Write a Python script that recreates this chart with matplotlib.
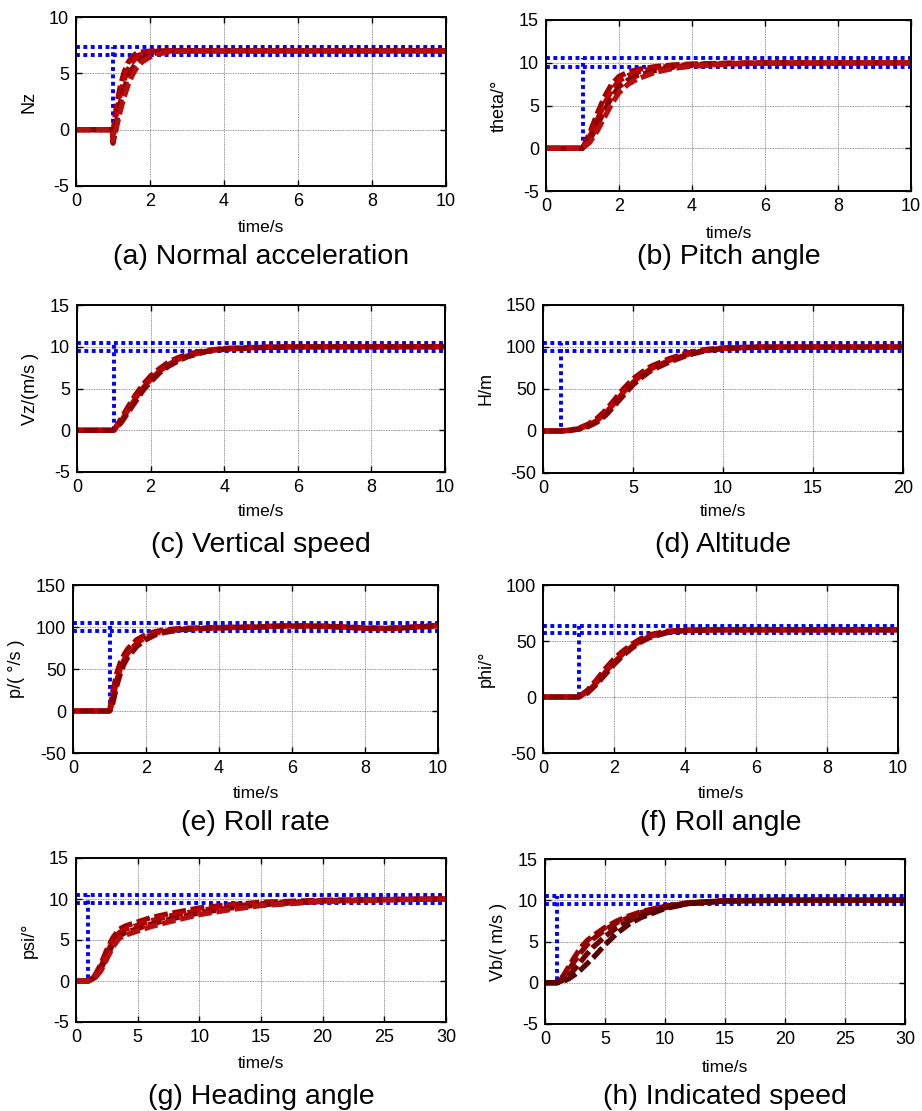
import matplotlib
matplotlib.use("Agg")
import matplotlib.pyplot as plt

plt.rcParams['font.family'] = ['Liberation Sans', 'DejaVu Sans']
plt.rcParams['axes.unicode_minus'] = False

# ---------------- data ----------------
# (a) Normal acceleration
t_a = [0, 0.98, 1.0, 1.05, 1.1, 1.2, 1.3, 1.4, 1.5, 1.6, 1.7, 1.8, 2.0, 2.2, 2.5, 3.0, 4.0, 10]
nz_1 = [0, 0, -0.3, 1.0, 2.2, 3.9, 5.1, 5.9, 6.4, 6.7, 6.85, 6.9, 6.97, 7.0, 7.0, 7.0, 7.0, 7.0]
nz_2 = [0, 0, -0.8, 0.3, 1.5, 3.2, 4.4, 5.3, 5.9, 6.3, 6.6, 6.75, 6.9, 6.97, 7.0, 7.0, 7.0, 7.0]
nz_3 = [0, 0, -1.2, -0.3, 0.7, 2.4, 3.6, 4.6, 5.3, 5.8, 6.1, 6.35, 6.65, 6.85, 6.95, 7.0, 7.0, 7.0]
nz_4 = [0, 0, -1.0, -0.5, 0.3, 1.7, 2.9, 3.9, 4.7, 5.3, 5.75, 6.05, 6.45, 6.7, 6.9, 6.98, 7.0, 7.0]
bounds_a = [6.65, 7.35]

# (b) Pitch angle
t_b = [0, 1.0, 1.2, 1.4, 1.6, 1.8, 2.0, 2.25, 2.5, 3.0, 3.5, 4.0, 5.0, 6.0, 10]
theta_1 = [0, 0, 1.8, 4.0, 6.0, 7.5, 8.4, 8.9, 9.2, 9.55, 9.75, 9.85, 9.95, 10, 10]
theta_2 = [0, 0, 1.4, 3.3, 5.2, 6.8, 7.9, 8.5, 8.9, 9.4, 9.65, 9.8, 9.93, 9.98, 10]
theta_3 = [0, 0, 1.0, 2.6, 4.4, 6.0, 7.2, 8.0, 8.5, 9.1, 9.5, 9.7, 9.88, 9.96, 10]
theta_4 = [0, 0, 0.7, 2.0, 3.6, 5.2, 6.5, 7.5, 8.1, 8.9, 9.35, 9.6, 9.85, 9.95, 10]
bounds_b = [9.5, 10.5]

# (c) Vertical speed
t_c = [0, 1.0, 1.2, 1.4, 1.6, 1.8, 2.0, 2.25, 2.5, 2.75, 3.0, 3.5, 4.0, 5.0, 6.0, 10]
vz_1 = [0, 0, 1.4, 2.9, 4.3, 5.5, 6.5, 7.4, 8.2, 8.7, 9.1, 9.55, 9.8, 9.95, 10, 10]
vz_2 = [0, 0, 1.1, 2.5, 3.9, 5.1, 6.1, 7.1, 7.9, 8.5, 8.9, 9.45, 9.75, 9.93, 10, 10]
vz_3 = [0, 0, 0.9, 2.2, 3.5, 4.8, 5.8, 6.9, 7.7, 8.3, 8.8, 9.4, 9.7, 9.9, 9.98, 10]
bounds_c = [9.5, 10.5]

# (d) Altitude
t_d = [0, 1, 1.5, 2, 2.5, 3, 3.5, 4, 4.5, 5, 5.5, 6, 7, 8, 9, 10, 12, 20]
h_1 = [0, 0, 1, 3.5, 8, 15, 25, 38, 51, 62, 70, 77, 86, 93, 97, 99, 100, 100]
h_2 = [0, 0, 0.8, 2.8, 6.5, 12.5, 22, 34, 47, 58, 67, 74, 84, 91, 96, 98.5, 100, 100]
h_3 = [0, 0, 0.6, 2.2, 5.2, 10.5, 19, 31, 43, 55, 64, 72, 82, 90, 95.5, 98, 99.8, 100]
bounds_d = [95, 105]

# (e) Roll rate
t_e = [0, 1, 1.05, 1.1, 1.2, 1.3, 1.4, 1.5, 1.75, 2, 2.25, 2.5, 3, 4, 5, 5.5, 6, 7, 8, 8.5, 9, 10]
p_1 = [0, 0, 12, 25, 45, 58, 67, 74, 85, 91, 94.5, 96.5, 98.5, 99.5, 100, 101, 101.5, 101, 99, 98.5, 99, 102]
p_2 = [0, 0, 6, 17, 37, 51, 61, 69, 81, 88, 92.5, 95, 97.8, 99.2, 100, 101, 101.3, 100.8, 98.8, 98.3, 99, 101.5]
p_3 = [0, 0, 3, 11, 30, 45, 56, 64, 77, 85, 90.5, 93.5, 97, 98.8, 99.8, 100.8, 101, 100.5, 98.5, 98, 98.8, 101]
bounds_e = [95, 105]

# (f) Roll angle
t_f = [0, 1, 1.25, 1.5, 1.75, 2, 2.25, 2.5, 2.75, 3, 3.5, 4, 5, 10]
phi_1 = [0, 0, 6, 15, 25, 34, 41, 47, 52, 55.5, 58.8, 59.8, 60, 60]
phi_2 = [0, 0, 4.5, 12.5, 22, 31, 38.5, 45, 50, 54, 58, 59.5, 60, 60]
phi_3 = [0, 0, 3.5, 11, 20, 29, 37, 43.5, 49, 53, 57.5, 59.3, 60, 60]
bounds_f = [57, 63]

# (g) Heading angle
t_g = [0, 1, 1.5, 2, 2.5, 3, 3.5, 4, 5, 6, 7.5, 10, 12.5, 15, 20, 25, 30]
psi_1 = [0, 0, 0.6, 2.0, 3.8, 5.3, 6.3, 6.7, 7.2, 7.7, 8.2, 8.9, 9.3, 9.6, 9.85, 9.95, 10]
psi_2 = [0, 0, 0.5, 1.7, 3.4, 4.9, 5.9, 6.3, 6.8, 7.3, 7.9, 8.6, 9.1, 9.45, 9.8, 9.93, 10]
psi_3 = [0, 0, 0.4, 1.4, 3.0, 4.5, 5.5, 5.9, 6.4, 6.9, 7.5, 8.3, 8.9, 9.3, 9.75, 9.9, 10]
psi_4 = [0, 0, 0.3, 1.2, 2.7, 4.2, 5.2, 5.6, 6.1, 6.6, 7.2, 8.1, 8.7, 9.2, 9.7, 9.9, 10]
bounds_g = [9.5, 10.5]

# (h) Indicated speed
t_h = [0, 1, 1.5, 2, 2.5, 3, 3.5, 4, 5, 6, 7, 8, 10, 12, 15, 20, 30]
vb_1 = [0, 0, 0.8, 2.0, 3.2, 4.3, 5.1, 5.7, 6.7, 7.5, 8.1, 8.6, 9.3, 9.7, 9.95, 10, 10]
vb_2 = [0, 0, 0.6, 1.6, 2.7, 3.7, 4.6, 5.3, 6.4, 7.3, 7.9, 8.5, 9.25, 9.7, 9.95, 10, 10]
vb_3 = [0, 0, 0.3, 0.9, 1.7, 2.6, 3.5, 4.3, 5.6, 6.7, 7.5, 8.2, 9.1, 9.6, 9.9, 10, 10]
vb_4 = [0, 0, 0.15, 0.5, 1.0, 1.6, 2.3, 3.0, 4.6, 6.0, 7.1, 7.9, 9.0, 9.6, 9.9, 10, 10]
bounds_h = [9.5, 10.5]

step_time = 1.0

ylabels = ["Nz", "theta/°", "Vz/(m/s )", "H/m", "p/( °/s )", "phi/°", "psi/°", "Vb/( m/s )"]
captions = ["(a) Normal acceleration", "(b) Pitch angle", "(c) Vertical speed", "(d) Altitude",
            "(e) Roll rate", "(f) Roll angle", "(g) Heading angle", "(h) Indicated speed"]
xlims = [10, 10, 10, 20, 10, 10, 30, 30]
ylims = [(-5, 10), (-5, 15), (-5, 15), (-50, 150), (-50, 150), (-50, 100), (-5, 15), (-5, 15)]
yticks = [[-5, 0, 5, 10], [-5, 0, 5, 10, 15], [-5, 0, 5, 10, 15], [-50, 0, 50, 100, 150],
          [-50, 0, 50, 100, 150], [-50, 0, 50, 100], [-5, 0, 5, 10, 15], [-5, 0, 5, 10, 15]]
xticks = [[0, 2, 4, 6, 8, 10]] * 3 + [[0, 5, 10, 15, 20]] + [[0, 2, 4, 6, 8, 10]] * 2 + \
         [[0, 5, 10, 15, 20, 25, 30]] * 2

panels = [
    (t_a, [nz_1, nz_2, nz_3, nz_4], bounds_a),
    (t_b, [theta_1, theta_2, theta_3, theta_4], bounds_b),
    (t_c, [vz_1, vz_2, vz_3], bounds_c),
    (t_d, [h_1, h_2, h_3], bounds_d),
    (t_e, [p_1, p_2, p_3], bounds_e),
    (t_f, [phi_1, phi_2, phi_3], bounds_f),
    (t_g, [psi_1, psi_2, psi_3, psi_4], bounds_g),
    (t_h, [vb_1, vb_2, vb_3, vb_4], bounds_h),
]

# ---------------- layout (pixels) ----------------
W, H = 922, 1111
boxes = [  # left, right, top, bottom
    (76, 446, 17, 186), (546, 911, 20, 191),
    (77, 445, 305, 472), (543, 903, 305, 473),
    (73, 438, 585, 753), (543, 898, 585, 753),
    (76, 446, 858, 1022), (545, 905, 859, 1024),
]
xlab_y = [227, 233, 512, 512, 793, 793, 1063, 1067]
cap_y = [257, 257, 545, 545, 823, 823, 1097, 1097]

reds = ['#A00000', '#C00000', '#8A0000', '#B51010']
reds_h = ['#A00000', '#8A0000', '#6E0000', '#560000']

fig = plt.figure(figsize=(W / 100, H / 100), dpi=100)

for i, (t, curves, bnd) in enumerate(panels):
    l, r, tp, b = boxes[i]
    ax = fig.add_axes([l / W, 1 - b / H, (r - l) / W, (b - tp) / H])
    tend = xlims[i]
    lo, hi = bnd
    dot = dict(color='#0000FF', lw=2.8, linestyle=(0, (1, 0.9)), dash_capstyle='butt')
    ax.plot([0, tend], [hi, hi], **dot)
    ax.plot([0, tend], [lo, lo], **dot)
    ax.plot([0, step_time, step_time], [0, 0, hi], **dot)
    cols = reds_h if i == 7 else reds
    for k, y in enumerate(curves):
        ax.plot(t, y, color=cols[k % len(cols)], lw=3.8, linestyle=(k * 1.1, (2.6, 0.9)),
                dash_capstyle='butt')
    ax.set_xlim(0, tend)
    ax.set_ylim(*ylims[i])
    ax.set_xticks(xticks[i])
    ax.set_yticks(yticks[i])
    ax.grid(True, color='#707070', lw=0.6, linestyle=(0, (1, 1)))
    ax.tick_params(direction='in', length=4, width=1, top=True, right=True,
                   labelsize=13, pad=5, colors='black')
    for s in ax.spines.values():
        s.set_linewidth(1.4)
    ax.set_ylabel(ylabels[i], fontsize=13, labelpad=8)
    cx = (l + r) / 2 / W
    fig.text(cx, 1 - xlab_y[i] / H, "time/s", ha='center', va='center', fontsize=12.5)
    fig.text(cx, 1 - cap_y[i] / H, captions[i], ha='center', va='center', fontsize=20.5)

fig.savefig("out.png", dpi=100)
